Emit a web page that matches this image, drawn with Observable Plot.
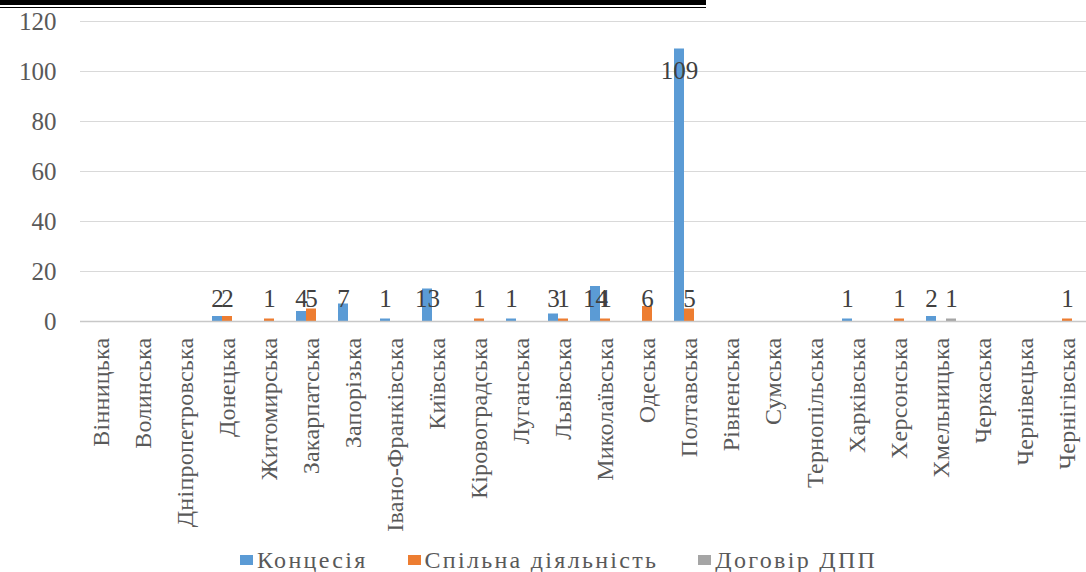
<!DOCTYPE html>
<html>
<head>
<meta charset="utf-8">
<script src="https://cdn.jsdelivr.net/npm/d3@7"></script>
<script src="https://cdn.jsdelivr.net/npm/@observablehq/plot@0.6"></script>
<style>
  html, body { margin: 0; padding: 0; background: #fff; overflow: hidden; }
  #wrap { position: relative; width: 1086px; height: 572px; }
  #topline { position: absolute; left: 0; top: 0; width: 706px; height: 2px; border-top: 5px solid #000; border-bottom: 1.5px solid #000; z-index: 2; }
  #legend { position: absolute; left: 240px; top: 548px; height: 24px; display: flex; align-items: center;
            font-family: "Liberation Serif", serif; font-size: 24px; line-height: 24px; color: #595959; letter-spacing: 2.3px; }
  .item { display: flex; align-items: center; margin-right: 40px; }
  .sw { width: 13px; height: 10px; margin-right: 4px; display: inline-block; }
  svg text { font-family: "Liberation Serif", serif; }
  .fxlab text { letter-spacing: 0.25px; }
</style>
</head>
<body>
<div id="wrap">
  <div id="topline"></div>
  <div id="chart"></div>
  <div id="legend"></div>
</div>
<script>
const categories = ["Вінницька","Волинська","Дніпропетровська","Донецька","Житомирська","Закарпатська","Запорізька","Івано-Франківська","Київська","Кіровоградська","Луганська","Львівська","Миколаївська","Одеська","Полтавська","Рівненська","Сумська","Тернопільська","Харківська","Херсонська","Хмельницька","Черкаська","Чернівецька","Чернігівська"];
const seriesNames = ["Концесія","Спільна діяльність","Договір ДПП"];
const concession = [0,0,0,2,0,4,7,1,13,0,1,3,14,0,109,0,0,0,1,0,2,0,0,0];
const joint      = [0,0,0,2,1,5,0,0,0,1,0,1,1,6,5,0,0,0,0,1,0,0,0,1];
const ppp        = [0,0,0,0,0,0,0,0,0,0,0,0,0,0,0,0,0,0,0,0,1,0,0,0];
const colors = ["#5B9BD5","#ED7D31","#A5A5A5"];
const yTicks = [0,20,40,60,80,100,120];

const rows = categories.flatMap((c, i) =>
  [concession[i], joint[i], ppp[i]].map((v, j) => ({region: c, series: seriesNames[j], value: v}))
);

const font = '"Liberation Serif", serif';

const chart = Plot.plot({
  width: 1086,
  height: 540,
  marginTop: 21,
  marginBottom: 219,
  marginLeft: 76,
  marginRight: -6,
  style: {fontFamily: font, background: "transparent", overflow: "visible"},
  fx: {domain: categories, padding: 0, label: null, axis: null},
  x: {domain: seriesNames, paddingInner: 0, paddingOuter: 0.52, axis: null},
  y: {domain: [0, 120], axis: null},
  color: {domain: seriesNames, range: colors},
  marks: [
    Plot.ruleY(yTicks.filter(t => t > 0), {stroke: "#d9d9d9", strokeWidth: 1}),
    Plot.barY(rows, {fx: "region", x: "series", y: "value", fill: "series"}),
    Plot.ruleY([0], {stroke: "#c8c8c8", strokeWidth: 1.5}),
    Plot.axisY({ticks: yTicks, tickSize: 0, tickPadding: 24, fontSize: 25, fill: "#595959", label: null}),
    Plot.axisFx({anchor: "bottom", tickRotate: -90, tickSize: 0, tickPadding: 16, fontSize: 24, fill: "#595959", label: null, className: "fxlab"}),
    Plot.text(rows, {filter: d => d.value > 0 && d.value < 100, fx: "region", x: "series", y: d => 0, text: "value",
      dy: -23, fontSize: 25, fill: "#404040"}),
    Plot.text(rows, {filter: d => d.value >= 100, fx: "region", x: "series", y: "value", text: "value",
      dy: 22, fontSize: 25, fill: "#404040"})
  ]
});
document.getElementById("chart").appendChild(chart);

const legend = document.getElementById("legend");
seriesNames.forEach((s, i) => {
  const item = document.createElement("div");
  item.className = "item";
  const sw = document.createElement("span");
  sw.className = "sw";
  sw.style.background = colors[i];
  const label = document.createElement("span");
  label.textContent = s;
  item.appendChild(sw);
  item.appendChild(label);
  legend.appendChild(item);
});
</script>
</body>
</html>
